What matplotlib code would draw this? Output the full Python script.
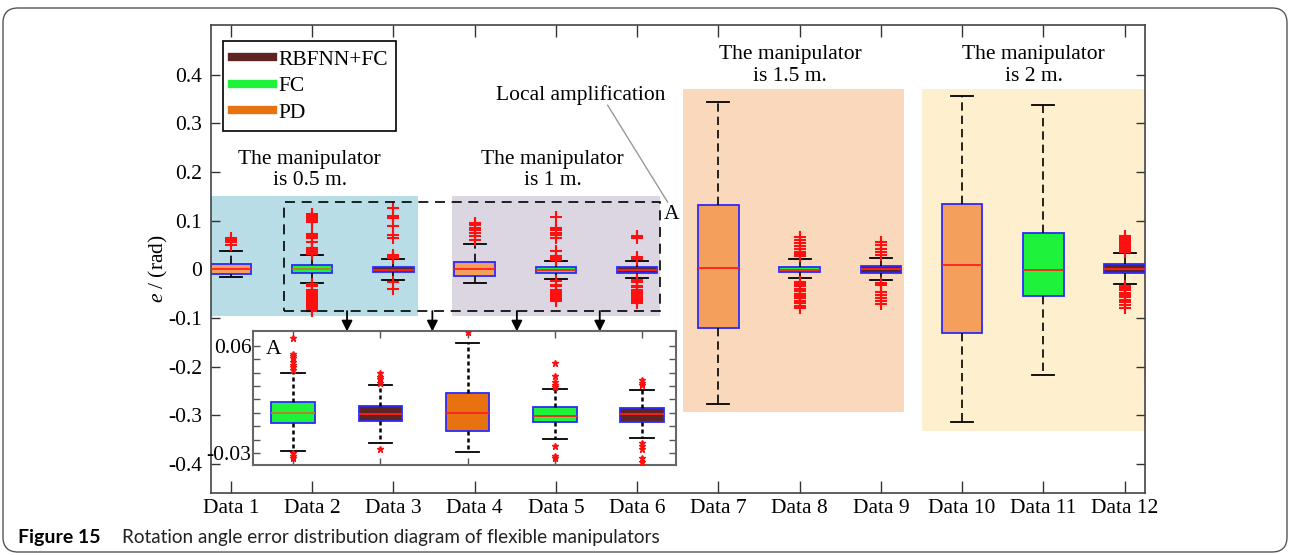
import numpy as np
import matplotlib
matplotlib.use("Agg")
import matplotlib.pyplot as plt
from matplotlib.lines import Line2D
from matplotlib.patches import Rectangle, FancyBboxPatch
from matplotlib.ticker import FixedLocator, FixedFormatter, FuncFormatter

plt.rcParams['font.family'] = ['Liberation Serif', 'DejaVu Serif']
plt.rcParams['mathtext.fontset'] = 'custom'
plt.rcParams['mathtext.rm'] = 'Liberation Serif'
plt.rcParams['mathtext.it'] = 'Liberation Serif:italic'
plt.rcParams['axes.unicode_minus'] = False

# ---------------- data ----------------
categories = ['Data 1', 'Data 2', 'Data 3', 'Data 4', 'Data 5', 'Data 6',
              'Data 7', 'Data 8', 'Data 9', 'Data 10', 'Data 11', 'Data 12']
methods = ['PD', 'FC', 'RBFNN+FC'] * 4

q1 = [-0.010, -0.0077, -0.0062, -0.0134, -0.0069, -0.0069,
      -0.121, -0.006, -0.008, -0.131, -0.055, -0.008]
median = [0.0, 0.0, -0.0009, 0.0, -0.0024, -0.0009,
          0.002, -0.001, 0.0, 0.008, -0.002, 0.0]
q3 = [0.010, 0.0081, 0.0051, 0.015, 0.0043, 0.0036,
      0.133, 0.004, 0.006, 0.135, 0.074, 0.010]
whisker_low = [-0.016, -0.0287, -0.0227, -0.029, -0.0197, -0.019,
               -0.277, -0.018, -0.023, -0.315, -0.217, -0.031]
whisker_high = [0.037, 0.0298, 0.0208, 0.052, 0.0178, 0.017,
                0.344, 0.022, 0.023, 0.357, 0.338, 0.033]

outliers = [
    [0.050, 0.055, 0.060, 0.065],
    [0.032, 0.034, 0.036, 0.038, 0.041, 0.0425, 0.044, 0.056, 0.064, 0.068,
     0.072, 0.097, 0.101, 0.105, 0.109, 0.113,
     -0.030, -0.032, -0.034, -0.042, -0.046, -0.050, -0.054, -0.058, -0.062,
     -0.066, -0.070, -0.074, -0.078, -0.082, -0.086],
    [0.0223, 0.025, 0.027, 0.0298, 0.065, 0.070, 0.088, 0.105, 0.110, 0.126,
     -0.027, -0.041],
    [0.0605, 0.068, 0.074, 0.080, 0.085, 0.090, 0.095],
    [0.019, 0.021, 0.023, 0.0275, 0.0373, 0.065, 0.070, 0.075, 0.080, 0.085, 0.107,
     -0.025, -0.032, -0.034, -0.042, -0.046, -0.050, -0.054, -0.058, -0.062, -0.066],
    [0.0208, 0.0223, 0.0245, 0.065, 0.068,
     -0.0227, -0.025, -0.027, -0.034, -0.037, -0.042, -0.046, -0.050, -0.054,
     -0.058, -0.062, -0.066, -0.070],
    [],
    [0.028, 0.032, 0.036, 0.042, 0.048, 0.054, 0.060, 0.066,
     -0.026, -0.030, -0.035, -0.040, -0.045, -0.050, -0.055, -0.060, -0.065,
     -0.070, -0.075, -0.079],
    [0.030, 0.036, 0.042, 0.050, 0.056,
     -0.028, -0.032, -0.047, -0.053, -0.060, -0.066, -0.072],
    [],
    [],
    [0.036, 0.040, 0.044, 0.048, 0.052, 0.056, 0.060, 0.064, 0.068,
     -0.035, -0.039, -0.043, -0.048, -0.053, -0.058, -0.063, -0.068, -0.073, -0.079],
]

legend_labels = ['RBFNN+FC', 'FC', 'PD']
group_titles = ['The manipulator\nis 0.5 m.', 'The manipulator\nis 1 m.',
                'The manipulator\nis 1.5 m.', 'The manipulator\nis 2 m.']
yticks_main = [-0.4, -0.3, -0.2, -0.1, 0.0, 0.1, 0.2, 0.3, 0.4]
inset_categories = [2, 3, 4, 5, 6]
inset_yticks = [-0.03, -0.02, -0.01, 0.0, 0.01, 0.02, 0.03, 0.04, 0.05]
inset_ytick_labels = ['-0.03', '', '', '', '', '', '', '', '0.06']

# ---------------- styles ----------------
fill_main = {'PD': '#f4a05c', 'FC': '#1ef23a', 'RBFNN+FC': '#5e2424'}
fill_inset = {'PD': '#e8720f', 'FC': '#1ef23a', 'RBFNN+FC': '#5e2424'}
legend_colors = {'RBFNN+FC': '#5e2424', 'FC': '#1ef23a', 'PD': '#e8720f'}
median_colors = ['#ff2020', '#b87a2a', '#ff2020', '#ff2020', '#ff2020', '#ff2020',
                 '#ff2020', '#ff2020', '#ff2020', '#ff2020', '#ff2020', '#ff2020']
FS = 15.5

fig = plt.figure(figsize=(12.9, 5.55), dpi=100)
ax = fig.add_axes([0.1632, 0.1117, 0.7244, 0.8433])

positions = np.arange(1, len(categories) + 1)
stats = []
for i in range(len(categories)):
    stats.append(dict(med=median[i], q1=q1[i], q3=q3[i], whislo=whisker_low[i],
                      whishi=whisker_high[i], fliers=np.array(outliers[i]),
                      label=categories[i]))


def draw_boxes(axis, idx, fills, whisk_ls, whisk_lw, flier_kw):
    res = axis.bxp([stats[i] for i in idx], positions=[positions[i] for i in idx],
                   widths=0.5, capwidths=0.27, patch_artist=True,
                   boxprops=dict(edgecolor='#2a2aff', linewidth=1.3),
                   whiskerprops=dict(color='black', linestyle=whisk_ls, linewidth=whisk_lw),
                   capprops=dict(color='black', linewidth=1.3),
                   medianprops=dict(color='#ff2020', linewidth=1.3),
                   flierprops=flier_kw, manage_ticks=False, zorder=3)
    for k, i in enumerate(idx):
        res['boxes'][k].set_facecolor(fills[methods[i]])
        res['medians'][k].set_color(median_colors[i])
    return res


# shaded group backgrounds
bg = [((0.75, -0.097), 3.30 - 0.75, 0.15 + 0.097, '#b9dde6'),
      ((3.72, -0.097), 6.28 - 3.72, 0.15 + 0.097, '#dcd6e3'),
      ((6.57, -0.294), 9.29 - 6.57, 0.37 + 0.294, '#f9d8bc'),
      ((9.51, -0.333), 12.25 - 9.51, 0.37 + 0.333, '#fef0ce')]
for (xy, w, h, c) in bg:
    ax.add_patch(Rectangle(xy, w, h, facecolor=c, edgecolor='none', zorder=0))

draw_boxes(ax, list(range(12)), fill_main, (0, (5, 3)), 1.2,
           dict(marker='+', markeredgecolor='#ff1010', markersize=9,
                markeredgewidth=1.5, linestyle='none'))

ax.set_xlim(0.75, 12.25)
ax.set_ylim(-0.46, 0.502)
ax.set_xticks(positions)
ax.set_xticklabels(categories, fontsize=FS)
ax.set_yticks(yticks_main)
ax.yaxis.set_major_formatter(FuncFormatter(lambda v, p: '0' if abs(v) < 1e-9 else f'{v:.1f}'))
ax.tick_params(axis='y', direction='in', length=6.5, width=1, right=True,
               labelsize=FS, pad=6, colors='#333333')
ax.tick_params(axis='x', direction='in', length=8.5, width=1, top=True,
               labelsize=FS, pad=4, colors='#333333')
for lab in ax.get_xticklabels() + ax.get_yticklabels():
    lab.set_color('black')
for s in ax.spines.values():
    s.set_color('#444444')
    s.set_linewidth(1.2)

# group titles
for x, y, t in [(1.97, 0.204, group_titles[0]), (4.96, 0.204, group_titles[1]),
                (7.88, 0.419, group_titles[2]), (10.88, 0.419, group_titles[3])]:
    ax.text(x, y, t, ha='center', va='center', fontsize=FS, linespacing=1.2, zorder=5)

# zoom frame, label and arrows
ax.add_patch(Rectangle((1.66, -0.086), 6.28 - 1.66, 0.138 + 0.086, fill=False,
                       edgecolor='black', linestyle=(0, (6, 4)), linewidth=1.2, zorder=4))
ax.text(6.33, 0.113, 'A', fontsize=FS, ha='left', va='center', zorder=5)
ax.text(5.31, 0.357, 'Local amplification', fontsize=FS, ha='center', va='center', zorder=5)
ax.plot([5.637, 6.375], [0.337, 0.138], color='#9a9a9a', linewidth=1.0, zorder=4)
for xa in [2.43, 3.48, 4.52, 5.54]:
    ax.annotate('', xy=(xa, -0.128), xytext=(xa, -0.086),
                arrowprops=dict(arrowstyle='-|>', color='black', lw=1.3,
                                mutation_scale=16, shrinkA=0, shrinkB=0), zorder=5)

# legend
handles = [Line2D([0], [0], color=legend_colors[m], linewidth=6) for m in legend_labels]
leg = ax.legend(handles, legend_labels, loc='upper left', bbox_to_anchor=(0.0134, 0.966),
                borderaxespad=0, fontsize=FS, frameon=True, fancybox=False,
                edgecolor='black', framealpha=1, handlelength=1.9, handletextpad=0.25,
                labelspacing=0.3, borderpad=0.4)
leg.get_frame().set_linewidth(1.2)
leg.set_zorder(6)

fig.text(158 / 1290, 1 - 269 / 555, r'$e\ /\ \mathrm{(rad)}$', rotation=90,
         ha='center', va='center', fontsize=FS)

# inset with the local amplification
axi = fig.add_axes([253 / 1290, 1 - 465 / 555, (676 - 253) / 1290, (465 - 331) / 555])
draw_boxes(axi, [i - 1 for i in inset_categories], fill_inset, (0, (1.6, 1.2)), 1.8,
           dict(marker='*', markeredgecolor='#ff1010', markerfacecolor='#ff1010',
                markersize=4.5, linestyle='none'))
axi.set_xlim(1.54, 6.39)
axi.set_ylim(-0.039, 0.0612)
axi.set_xticks(inset_categories)
axi.set_xticklabels([])
axi.yaxis.set_major_locator(FixedLocator(inset_yticks))
axi.yaxis.set_major_formatter(FixedFormatter(inset_ytick_labels))
axi.tick_params(axis='both', direction='in', length=5, width=1, top=True, right=True,
                labelsize=FS, pad=1, colors='#555555')
for lab in axi.get_yticklabels():
    lab.set_color('black')
for s in axi.spines.values():
    s.set_color('#666666')
    s.set_linewidth(1.5)
axi.text(0.03, 0.93, 'A', transform=axi.transAxes, fontsize=FS, ha='left', va='top')

# caption and border
fig.text(18 / 1290, 1 - 537 / 555, 'Figure 15', fontsize=14, fontweight='bold',
         family='Lato', ha='left', va='center')
fig.text(122 / 1290, 1 - 537 / 555,
         'Rotation angle error distribution diagram of flexible manipulators',
         fontsize=13.6, family='Lato', ha='left', va='center', color='#222222')
fig.patches.append(FancyBboxPatch((0.03, 0.03), 12.84, 5.44,
                                  boxstyle='round,pad=0,rounding_size=0.15',
                                  transform=fig.dpi_scale_trans, fill=False,
                                  edgecolor='#555555', linewidth=1.0))

fig.savefig('out.png', dpi=100)
